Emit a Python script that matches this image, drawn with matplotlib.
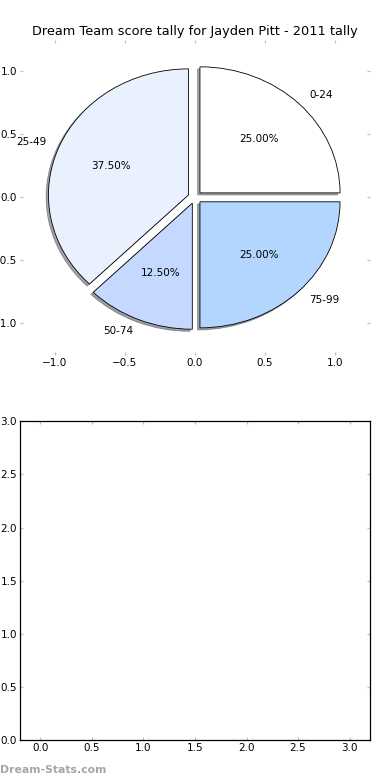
import matplotlib
matplotlib.use('Agg')
import matplotlib.pyplot as plt

# data
labels = ['0-24', '25-49', '50-74', '75-99']
counts = [2, 3, 1, 2]
colors = ['#ffffff', '#eaf1fe', '#c5d8ff', '#b3d6ff']
explode = [0.05, 0.05, 0.05, 0.05]
title = 'Dream Team score tally for Jayden Pitt - 2011 tally'

plt.rcParams['font.family'] = 'DejaVu Sans'
plt.rcParams['font.size'] = 12
plt.rcParams['xtick.direction'] = 'in'
plt.rcParams['ytick.direction'] = 'in'
plt.rcParams['xtick.color'] = '#c0c0c0'
plt.rcParams['ytick.color'] = '#c0c0c0'
plt.rcParams['xtick.labelcolor'] = 'black'
plt.rcParams['ytick.labelcolor'] = 'black'
plt.rcParams['xtick.major.size'] = 4
plt.rcParams['ytick.major.size'] = 4
plt.rcParams['xtick.major.width'] = 1.5
plt.rcParams['ytick.major.width'] = 1.5

fig = plt.figure(figsize=(6.5, 13), dpi=60)

# top: pie
ax1 = fig.add_axes([0.051, 0.545, 0.898, 0.404])
ax1.pie(counts, labels=labels, colors=colors, explode=explode,
        autopct='%1.2f%%', shadow=True, startangle=0,
        wedgeprops={'linewidth': 1, 'edgecolor': 'black'},
        textprops={'fontsize': 12.5})
ax1.set_aspect('auto')
ax1.set_xlim(-1.25, 1.25)
ax1.set_ylim(-1.25, 1.25)
ax1.set_xticks([-1.0, -0.5, 0.0, 0.5, 1.0])
ax1.set_yticks([-1.0, -0.5, 0.0, 0.5, 1.0])
ax1.tick_params(top=True, right=True, labelsize=12.5)
for s in ax1.spines.values():
    s.set_visible(False)
ax1.set_title(title, fontsize=15.5)

# bottom: empty axes
ax2 = fig.add_axes([0.051, 0.051, 0.898, 0.409])
ax2.set_xlim(-0.2, 3.2)
ax2.set_ylim(0, 3)
ax2.set_xticks([0, 0.5, 1, 1.5, 2, 2.5, 3])
ax2.set_yticks([0, 0.5, 1, 1.5, 2, 2.5, 3])
ax2.tick_params(top=True, right=True, labelsize=12.5)
for s in ax2.spines.values():
    s.set_linewidth(1.5)

fig.text(0.0, 0.006, 'Dream-Stats.com', fontsize=13, color='#a6a6a6',
         fontweight='bold', ha='left', va='bottom')

fig.savefig('out.png', dpi=60, facecolor='white')
